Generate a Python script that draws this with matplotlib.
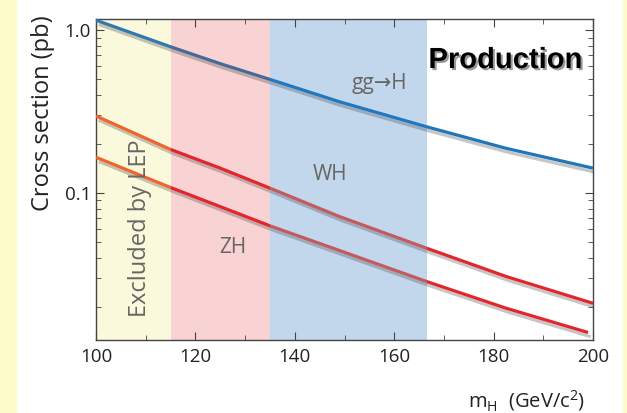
import matplotlib
matplotlib.use('Agg')
import matplotlib.pyplot as plt
import matplotlib.patheffects as pe
from matplotlib.patches import Rectangle
from matplotlib.ticker import FixedLocator, LogLocator, NullFormatter

# Higgs production cross sections (pb)
mass = [100, 115, 125, 135, 149, 166.5, 182.5, 200]
gg_h = [1.15, 0.79, 0.622, 0.498, 0.363, 0.255, 0.188, 0.142]
wh = [0.297, 0.185, 0.142, 0.107, 0.0716, 0.0458, 0.0307, 0.021]
zh_mass = [100, 115, 125, 135, 149, 166.5, 182.5, 199]
zh = [0.1656, 0.108, 0.0824, 0.0628, 0.0443, 0.0286, 0.0196, 0.0139]

# shaded mass windows: (start, end, fill, blue line tint, red line tint)
bands = [
    (100, 115, '#fbf9dc', '#2f78b2', '#f0652e'),
    (115, 135, '#f9d2d3', '#46689a', '#e2262a'),
    (135, 166.6, '#c3d7ec', '#1f78c0', '#c35a5e'),
    (166.6, 200, 'none', '#1f77b9', '#e3262b'),
]

plt.rcParams['font.family'] = ['Open Sans', 'DejaVu Sans']

fig = plt.figure(figsize=(6.27, 4.13), dpi=100)
fig.patches.append(Rectangle((0, 0), 16 / 627, 1, transform=fig.transFigure,
                             color='#fdfcc8', zorder=-10))
fig.patches.append(Rectangle((623 / 627, 0), 4 / 627, 1, transform=fig.transFigure,
                             color='#fdfcc8', zorder=-10))
ax = fig.add_axes([96 / 627, 1 - 340 / 413, 497 / 627, 321 / 413])

shadow = [pe.SimpleLineShadow(offset=(2, -3), alpha=0.3, shadow_color='#444444'),
          pe.Normal()]
for x0, x1, fill, blue, red in bands:
    span = ax.axvspan(x0, x1, color=fill, lw=0, zorder=0)
    for xs, ys, c in [(mass, gg_h, blue), (mass, wh, red), (zh_mass, zh, red)]:
        ln, = ax.plot(xs, ys, color=c, lw=2.3, path_effects=shadow, zorder=3,
                      solid_capstyle='butt')
        ln.set_clip_path(span)

ax.set_yscale('log')
ax.set_xlim(100, 200)
ax.set_ylim(0.0125, 1.17)
ax.set_xticks([100, 120, 140, 160, 180, 200])
ax.xaxis.set_minor_locator(FixedLocator([110, 130, 150, 170, 190]))
ax.yaxis.set_major_locator(FixedLocator([0.1, 1.0]))
ax.set_yticklabels(['0.1', '1.0'])
ax.yaxis.set_minor_locator(LogLocator(base=10, subs=range(2, 10)))
ax.yaxis.set_minor_formatter(NullFormatter())
ax.tick_params(which='both', direction='in', top=True, right=True,
               labelsize=13.5, color='#444444', labelcolor='#222222')
ax.tick_params(which='major', length=6)
ax.tick_params(which='minor', length=3.5)
ax.tick_params(axis='x', pad=6)
for s in ax.spines.values():
    s.set_color('#444444')
    s.set_linewidth(1.0)

grey = '#666666'
ax.text(108.8, 0.061, 'Excluded by LEP', rotation=90, ha='center', va='center',
        fontsize=17, color=grey)
ax.text(127.6, 0.046, 'ZH', ha='center', va='center', fontsize=15, color=grey)
ax.text(147, 0.129, 'WH', ha='center', va='center', fontsize=15, color=grey)
ax.text(157, 0.473, 'gg→H', ha='center', va='center', fontsize=15, color=grey)
ax.text(197.8, 0.655, 'Production', ha='right', va='center', fontsize=21,
        fontweight='bold', family=['Liberation Sans'], color='black',
        path_effects=[pe.withSimplePatchShadow(offset=(1.5, -1.5), alpha=0.4)])

ax.set_ylabel('Cross section (pb)', fontsize=17, color='#222222')
ax.yaxis.set_label_coords(-0.082, 0.707)
fig.text(585 / 627, 1 - 401 / 413, r'm$_\mathregular{H}$  (GeV/c$^\mathregular{2}$)',
         ha='right', va='center', fontsize=14.5, color='#222222')

fig.savefig('out.png', dpi=100)
